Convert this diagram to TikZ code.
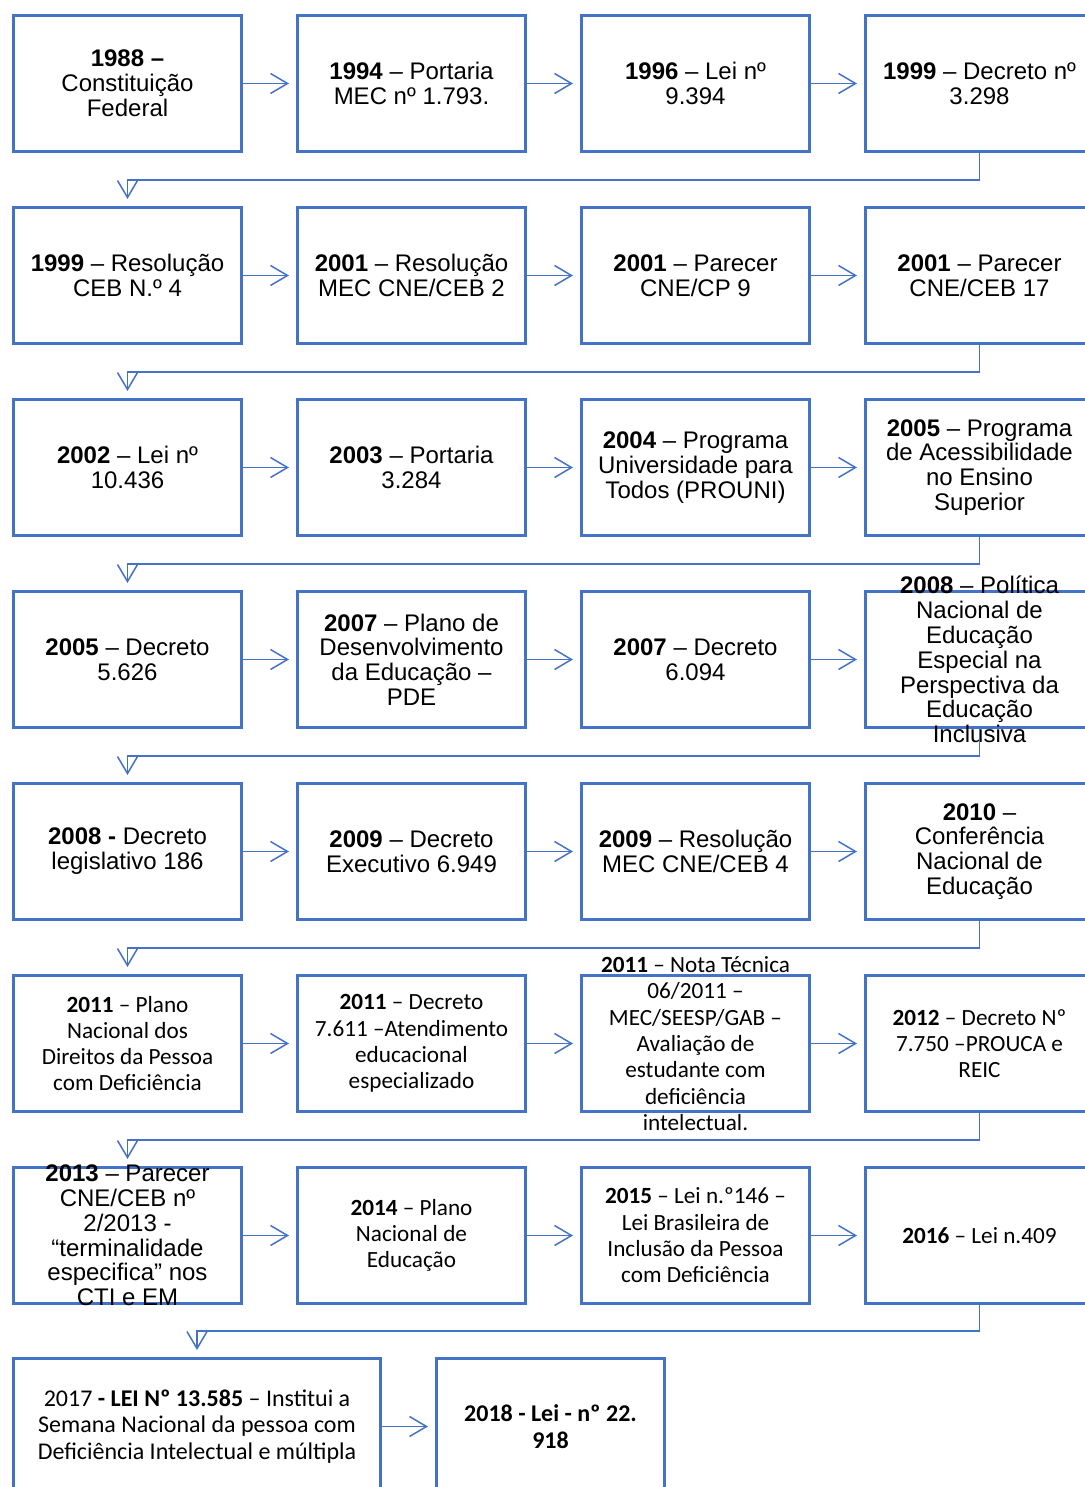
\documentclass[tikz,border=0pt]{standalone}
\usepackage{fontspec}
\setmainfont{Liberation Sans}
\newfontfamily\calib{Carlito}
\usetikzlibrary{
  positioning,
  arrows.meta
}
\definecolor{boxblue}{RGB}{68,114,196}
\tikzset{%
  box/.style={draw=boxblue, line width=3pt, minimum width=228pt, minimum height=136pt, inner sep=0pt}, % every year box has the same size
  wide/.style={box, minimum width=367pt},
  txt/.style={align=center, font=\fontsize{24}{24.8}\selectfont},
  ctxt/.style={align=center, font=\calib\fontsize{23.2}{26.3}\selectfont},
  btxt/.style={ctxt, font=\calib\fontsize{24}{26.5}\selectfont},
  link/.style={%
    draw=boxblue, line width=1.5pt, -{Straight Barb[length=17pt,width=20pt]}, shorten >=7pt
  }
}

\begin{document}
\begin{tikzpicture}[node distance=53pt, every edge/.style={link}]
    \useasboundingbox (0,0) rectangle (1084pt,-1487pt);
    % row 1
    \node[box, label={[txt]center:{\textbf{1988 –}\\Constituição\\Federal}}] (c1988) at (127.5pt,-83.5pt) {};
    \node[box, right=of c1988, label={[txt]center:{\textbf{1994} – Portaria\\MEC nº 1.793.}}] (c1994) {};
    \node[box, right=of c1994, label={[txt]center:{\textbf{1996} – Lei nº\\9.394}}] (c1996) {};
    \node[box, right=of c1996, label={[txt]center:{\textbf{1999} – Decreto nº\\3.298}}] (c1999a) {};
    % row 2
    \node[box, below=of c1988, label={[txt]center:{\textbf{1999} – Resolução\\CEB N.º 4}}] (c1999b) {};
    \node[box, right=of c1999b, label={[txt]center:{\textbf{2001} – Resolução\\MEC CNE/CEB 2}}] (c2001a) {};
    \node[box, right=of c2001a, label={[txt]center:{\textbf{2001} – Parecer\\CNE/CP 9}}] (c2001b) {};
    \node[box, right=of c2001b, label={[txt]center:{\textbf{2001} – Parecer\\CNE/CEB 17}}] (c2001c) {};
    % row 3
    \node[box, below=of c1999b, label={[txt]center:{\textbf{2002} – Lei nº\\10.436}}] (c2002) {};
    \node[box, right=of c2002, label={[txt]center:{\textbf{2003} – Portaria\\3.284}}] (c2003) {};
    \node[box, right=of c2003, label={[txt]center:{\textbf{2004} – Programa\\Universidade para\\Todos (PROUNI)}}] (c2004) {};
    \node[box, right=of c2004, label={[txt]center:{\textbf{2005} – Programa\\de Acessibilidade\\no Ensino\\Superior}}] (c2005a) {};
    % row 4
    \node[box, below=of c2002, label={[txt]center:{\textbf{2005} – Decreto\\5.626}}] (c2005b) {};
    \node[box, right=of c2005b, label={[txt]center:{\textbf{2007} – Plano de\\Desenvolvimento\\da Educação –\\PDE}}] (c2007a) {};
    \node[box, right=of c2007a, label={[txt]center:{\textbf{2007} – Decreto\\6.094}}] (c2007b) {};
    \node[box, right=of c2007b, label={[txt]center:{\textbf{2008} – Política\\Nacional de\\Educação\\Especial na\\Perspectiva da\\Educação\\Inclusiva}}] (c2008a) {};
    % row 5
    \node[box, below=of c2005b, label={[txt]center:{\textbf{2008 -} Decreto\\legislativo 186}}] (c2008b) {};
    \node[box, right=of c2008b, label={[txt]center:{\textbf{2009} – Decreto\\Executivo 6.949}}] (c2009a) {};
    \node[box, right=of c2009a, label={[txt]center:{\textbf{2009} – Resolução\\MEC CNE/CEB 4}}] (c2009b) {};
    \node[box, right=of c2009b, label={[txt]center:{\textbf{2010} –\\Conferência\\Nacional de\\Educação}}] (c2010) {};
    % row 6
    \node[box, below=of c2008b, label={[ctxt]center:{\textbf{2011} – Plano\\Nacional dos\\Direitos da Pessoa\\com Deficiência}}] (c2011a) {};
    \node[box, right=of c2011a, label={[ctxt]center:{\textbf{2011} – Decreto\\7.611 –Atendimento\\educacional\\especializado}}] (c2011b) {};
    \node[box, right=of c2011b, label={[ctxt]center:{\textbf{2011} – Nota Técnica\\06/2011 –\\MEC/SEESP/GAB –\\Avaliação de\\estudante com\\deficiência\\intelectual.}}] (c2011c) {};
    \node[box, right=of c2011c, label={[ctxt]center:{\textbf{2012} – Decreto Nº\\7.750 –PROUCA e\\REIC}}] (c2012) {};
    % row 7
    \node[box, below=of c2011a, label={[txt]center:{\textbf{2013} – Parecer\\CNE/CEB nº\\2/2013 -\\“terminalidade\\especifica” nos\\CTI e EM}}] (c2013) {};
    \node[box, right=of c2013, label={[ctxt]center:{\textbf{2014} – Plano\\Nacional de\\Educação}}] (c2014) {};
    \node[box, right=of c2014, label={[ctxt]center:{\textbf{2015} – Lei n.º146 –\\Lei Brasileira de\\Inclusão da Pessoa\\com Deficiência}}] (c2015) {};
    \node[box, right=of c2015, label={[ctxt]center:{\textbf{2016} – Lei n.409}}] (c2016) {};
    % row 8
    \node[wide, below=52pt of c2013.south west, anchor=north west, label={[btxt]center:{2017 \textbf{- LEI Nº 13.585} – Institui a\\Semana Nacional da pessoa com\\Deficiência Intelectual e múltipla}}] (c2017) {};
    \node[box, right=of c2017, label={[btxt]center:{\textbf{2018 - Lei - nº 22.}\\\textbf{918}}}] (c2018) {};

    % arrows inside the rows
    \draw (c1988) edge (c1994) (c1994) edge (c1996) (c1996) edge (c1999a);
    \draw (c1999b) edge (c2001a) (c2001a) edge (c2001b) (c2001b) edge (c2001c);
    \draw (c2002) edge (c2003) (c2003) edge (c2004) (c2004) edge (c2005a);
    \draw (c2005b) edge (c2007a) (c2007a) edge (c2007b) (c2007b) edge (c2008a);
    \draw (c2008b) edge (c2009a) (c2009a) edge (c2009b) (c2009b) edge (c2010);
    \draw (c2011a) edge (c2011b) (c2011b) edge (c2011c) (c2011c) edge (c2012);
    \draw (c2013) edge (c2014) (c2014) edge (c2015) (c2015) edge (c2016);
    \draw (c2017) edge (c2018);
    % arrows from one row to the next
    \draw[link] (c1999a.south) -- ++(0,-27pt) -| (c1999b.north);
    \draw[link] (c2001c.south) -- ++(0,-27pt) -| (c2002.north);
    \draw[link] (c2005a.south) -- ++(0,-27pt) -| (c2005b.north);
    \draw[link] (c2008a.south) -- ++(0,-27pt) -| (c2008b.north);
    \draw[link] (c2010.south) -- ++(0,-27pt) -| (c2011a.north);
    \draw[link] (c2012.south) -- ++(0,-27pt) -| (c2013.north);
    \draw[link] (c2016.south) -- ++(0,-26pt) -| (c2017.north);
  \end{tikzpicture}
\end{document}
